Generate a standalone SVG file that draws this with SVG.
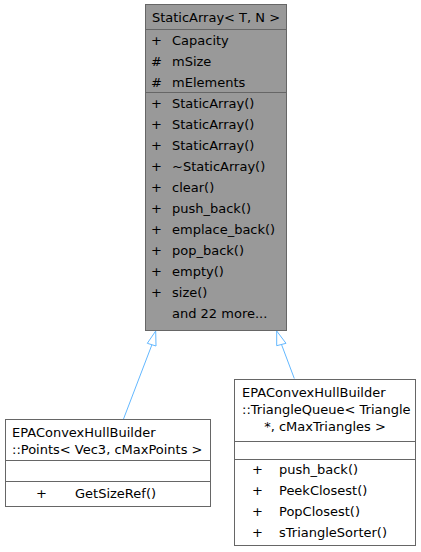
<svg xmlns="http://www.w3.org/2000/svg" width="421" height="552" viewBox="0 0 421 552">
<style>
text{font-family:"DejaVu Sans","Liberation Sans",sans-serif;font-size:13px;fill:#000}
.grey{fill:#999999;stroke:#666666;stroke-width:1}
.white{fill:#ffffff;stroke:#666666;stroke-width:1}
.sep{stroke:#666666;stroke-width:1;fill:none}
.edge{stroke:#63b8ff;stroke-width:1;fill:none}
.head{stroke:#63b8ff;stroke-width:1;fill:#ffffff}
.c{text-anchor:middle}
</style>
<rect width="421" height="552" fill="#ffffff"/>
<g id="connectors">
<path class="edge" d="M123.5,419 L152,344.5"/>
<polygon class="head" points="155.7,331 147.3,343.3 156,346"/>
<path class="edge" d="M294.3,378.5 L281.5,344.5"/>
<polygon class="head" points="276.7,331 276.7,345.7 286,343.3"/>
</g>
<g id="node-StaticArray">
<rect class="grey" x="145.5" y="4.5" width="141" height="326"/>
<line class="sep" x1="145.5" y1="29.5" x2="286.5" y2="29.5"/>
<line class="sep" x1="145.5" y1="92.5" x2="286.5" y2="92.5"/>
<text class="c" x="216" y="22">StaticArray&lt; T, N &gt;</text>
<text x="151" y="45">+</text><text x="172" y="45">Capacity</text>
<text x="151" y="66">#</text><text x="172" y="66">mSize</text>
<text x="151" y="87">#</text><text x="172" y="87">mElements</text>
<text x="151" y="108">+</text><text x="172" y="108">StaticArray()</text>
<text x="151" y="129">+</text><text x="172" y="129">StaticArray()</text>
<text x="151" y="150">+</text><text x="172" y="150">StaticArray()</text>
<text x="151" y="171">+</text><text x="172" y="171">~StaticArray()</text>
<text x="151" y="192">+</text><text x="172" y="192">clear()</text>
<text x="151" y="213">+</text><text x="172" y="213">push_back()</text>
<text x="151" y="234">+</text><text x="172" y="234">emplace_back()</text>
<text x="151" y="255">+</text><text x="172" y="255">pop_back()</text>
<text x="151" y="276">+</text><text x="172" y="276">empty()</text>
<text x="151" y="297">+</text><text x="172" y="297">size()</text>
<text x="172" y="318">and 22 more...</text>
</g>
<g id="node-Points">
<rect class="white" x="5.5" y="419.5" width="205" height="87"/>
<line class="sep" x1="5.5" y1="460.5" x2="210.5" y2="460.5"/>
<line class="sep" x1="5.5" y1="481.5" x2="210.5" y2="481.5"/>
<text x="12" y="437">EPAConvexHullBuilder</text>
<text x="12" y="454">::Points&lt; Vec3, cMaxPoints &gt;</text>
<text x="36" y="498">+</text><text x="75" y="498">GetSizeRef()</text>
</g>
<g id="node-TriangleQueue">
<rect class="white" x="234.5" y="379.5" width="181" height="166"/>
<line class="sep" x1="234.5" y1="441.5" x2="415.5" y2="441.5"/>
<line class="sep" x1="234.5" y1="459.5" x2="415.5" y2="459.5"/>
<text x="242" y="397">EPAConvexHullBuilder</text>
<text x="242" y="414">::TriangleQueue&lt; Triangle</text>
<text class="c" x="325" y="431">*, cMaxTriangles &gt;</text>
<text x="252" y="474">+</text><text x="279" y="474">push_back()</text>
<text x="252" y="495">+</text><text x="279" y="495">PeekClosest()</text>
<text x="252" y="516">+</text><text x="279" y="516">PopClosest()</text>
<text x="252" y="537">+</text><text x="279" y="537">sTriangleSorter()</text>
</g>
</svg>
